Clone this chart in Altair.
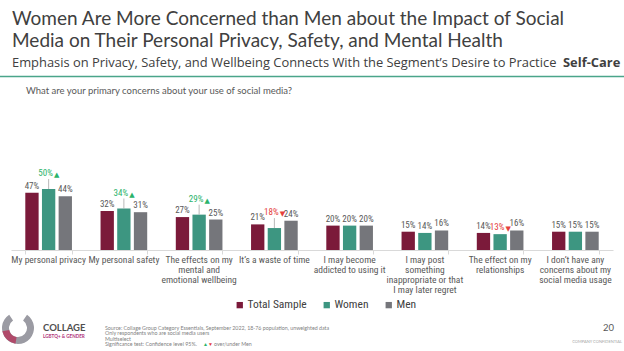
import altair as alt
import pandas as pd

# ---------------- data ----------------
categories = [
    "My personal privacy",
    "My personal safety",
    "The effects on my|mental and|emotional wellbeing",
    "It’s a waste of time",
    "I may become|addicted to using it",
    "I may post|something|inappropriate or that|I may later regret",
    "The effect on my|relationships",
    "I don’t have any|concerns about my|social media usage",
]
series = ["Total Sample", "Women", "Men"]
total_vals = [47, 32, 27, 21, 20, 15, 14, 15]
women_vals = [50, 34, 29, 18, 20, 14, 13, 15]
men_vals = [44, 31, 25, 24, 20, 16, 16, 15]
women_sig = ["up", "up", "up", "down", "none", "none", "down", "none"]
women_raised = [True, True, True, True, False, False, False, False]

bar_colors = ["#7b1a3a", "#3d9681", "#75767b"]
sig_colors = ["#2bb36a", "#e5403b", "#595959"]

title_lines = [
    "Women Are More Concerned than Men about the Impact of Social",
    "Media on Their Personal Privacy, Safety, and Mental Health",
]
subtitle_regular = "Emphasis on Privacy, Safety, and Wellbeing Connects With the Segment’s Desire to Practice"
subtitle_bold = "Self-Care"
question = "What are your primary concerns about your use of social media?"
source_lines = [
    "Source: Collage Group Category Essentials, September 2022, 18-76 population, unweighted data",
    "Only respondents who are social media users",
    "Multiselect",
]
sig_note = "Significance test: Confidence level 95%."
sig_note_tail = "over/under Men"

rows = []
for i, c in enumerate(categories):
    for s, vals in zip(series, [total_vals, women_vals, men_vals]):
        v = vals[i]
        sig = women_sig[i] if s == "Women" else "none"
        raised = women_raised[i] if s == "Women" else False
        arrow = "▲" if sig == "up" else ("▼" if sig == "down" else "")
        rows.append(dict(cat=c, series=s, value=v, sig=sig, raised=raised,
                         label=f"{v}%", arrow=arrow))
df = pd.DataFrame(rows)
cat_df = pd.DataFrame({"cat": categories})

FONT = "Lato"
NARROW = "Liberation Sans Narrow, Roboto Condensed, Lato"

x_enc = alt.X(
    "cat:N",
    sort=categories,
    scale=alt.Scale(domain=categories, range=[11, 613], paddingInner=0.38, paddingOuter=0.19),
    axis=alt.Axis(
        title=None,
        labels=False,
        domainColor="#d9d9d9",
        tickColor="#d9d9d9",
        tickSize=4,
        tickBand="extent",
    ),
)
xo_enc = alt.XOffset("series:N", sort=series, scale=alt.Scale(domain=series, paddingInner=0.2))
y_enc = alt.Y("value:Q", scale=alt.Scale(domain=[0, 205]), axis=None)

base = alt.Chart(df)

bars = base.mark_bar().encode(
    x=x_enc,
    xOffset=xo_enc,
    y=y_enc,
    color=alt.Color(
        "series:N",
        sort=series,
        scale=alt.Scale(domain=series, range=bar_colors),
        legend=alt.Legend(
            title=None,
            orient="none",
            legendX=234,
            legendY=299,
            direction="horizontal",
            symbolType="square",
            symbolSize=40,
            symbolStrokeWidth=0,
            labelFontSize=11.5,
            labelFont=NARROW,
            labelColor="#404040",
            columnPadding=14,
            labelOffset=2,
        ),
    ),
)

fill_enc = alt.Fill(
    "sig:N", scale=alt.Scale(domain=["up", "down", "none"], range=sig_colors), legend=None
)

labels_plain = base.transform_filter("datum.sig == 'none'").mark_text(
    baseline="bottom", dy=-2, fontSize=9, font=NARROW
).encode(x=x_enc, xOffset=xo_enc, y=y_enc, text="label:N", fill=fill_enc)

labels_sig_low = base.transform_filter("datum.sig != 'none' && !datum.raised").mark_text(
    baseline="bottom", dy=-2, dx=-3, fontSize=9, font=NARROW
).encode(x=x_enc, xOffset=xo_enc, y=y_enc, text="label:N", fill=fill_enc)

arrows_low = base.transform_filter("datum.sig != 'none' && !datum.raised").mark_text(
    baseline="bottom", dy=-2, dx=8, fontSize=7, font="DejaVu Sans"
).encode(x=x_enc, xOffset=xo_enc, y=y_enc, text="arrow:N", fill=fill_enc)

labels_raised = base.transform_filter("datum.raised").mark_text(
    baseline="bottom", dy=-11, dx=-3, fontSize=9, font=NARROW
).encode(x=x_enc, xOffset=xo_enc, y=y_enc, text="label:N", fill=fill_enc)

arrows_raised = base.transform_filter("datum.raised").mark_text(
    baseline="bottom", dy=-11, dx=8, fontSize=7, font="DejaVu Sans"
).encode(x=x_enc, xOffset=xo_enc, y=y_enc, text="arrow:N", fill=fill_enc)

leaders = base.transform_filter("datum.raised").mark_rule(
    color="#a6a6a6", strokeWidth=0.8, y2Offset=-10
).encode(x=x_enc, xOffset=xo_enc, y=y_enc, y2="value:Q")

cat_labels = alt.Chart(cat_df).mark_text(
    baseline="top", align="center", fontSize=9.5, font=NARROW, color="#595959",
    lineBreak="|", lineHeight=10,
).encode(x=x_enc, y=alt.value(255), text="cat:N")


def txt(s, x, y, size, color, weight="normal", align="left", font=FONT):
    return alt.Chart(pd.DataFrame({"t": [s]})).mark_text(
        align=align, baseline="alphabetic", fontSize=size, color=color, fontWeight=weight, font=font
    ).encode(x=alt.value(x), y=alt.value(y), text="t:N")


one = pd.DataFrame({"k": [0]})

header = [
    txt(title_lines[0], 12, 25, 19, "#404040"),
    txt(title_lines[1], 12, 47, 19, "#404040"),
    txt(subtitle_regular, 12, 67, 12.9, "#404040", font="Open Sans"),
    txt(subtitle_bold, 563, 67, 12.9, "#404040", weight="bold", font="Open Sans"),
    txt(question, 26, 94, 9.5, "#595959"),
]
green_line = alt.Chart(one).mark_rule(color="#4aa58a", strokeWidth=1.5).encode(
    x=alt.value(0), x2=alt.value(624), y=alt.value(76.5)
)

logo_gray = alt.Chart(one).mark_arc(
    theta=0.6, theta2=5.7, innerRadius=9, outerRadius=16, color="#9b9ba3"
).encode(x=alt.value(18), y=alt.value(328))
logo_red = alt.Chart(one).mark_arc(
    theta=3.3, theta2=4.5, innerRadius=9, outerRadius=16, color="#b04a6a"
).encode(x=alt.value(18), y=alt.value(328))

footer = [
    txt("COLLAGE", 43, 331, 9.5, "#505050", weight="bold"),
    txt("LGBTQ+ & GENDER", 43, 337.5, 4.6, "#b0317a", weight="bold"),
    txt(source_lines[0], 105, 329.5, 5.3, "#7f7f7f"),
    txt(source_lines[1], 105, 335, 5.3, "#7f7f7f"),
    txt(source_lines[2], 105, 340.5, 5.3, "#7f7f7f"),
    txt(sig_note, 105, 346, 5.3, "#7f7f7f"),
    txt("▲", 203, 346, 5, sig_colors[0]),
    txt("▼", 208, 346, 5, sig_colors[1]),
    txt(sig_note_tail, 214, 346, 5.3, "#7f7f7f"),
    txt("20", 614, 331, 9.5, "#595959", align="right"),
    txt("COMPANY CONFIDENTIAL", 622, 343, 4, "#a6a6a6", align="right"),
]

chart = alt.layer(
    bars, leaders, labels_plain, labels_sig_low, arrows_low, labels_raised, arrows_raised,
    cat_labels, green_line, logo_gray, logo_red, *header, *footer
).properties(
    width=624,
    height=250,
    padding={"left": 0, "top": 0, "right": 0, "bottom": 101},
    autosize=alt.AutoSizeParams(type="none"),
    background="white",
).configure_view(stroke=None)

chart.save("out.html", embed_options={"renderer": "svg", "actions": False})
